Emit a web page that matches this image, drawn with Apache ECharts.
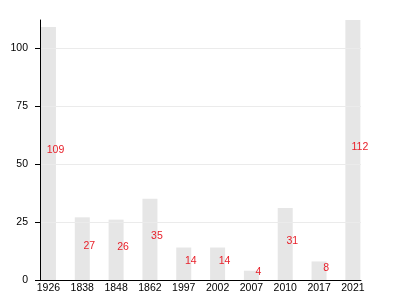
<!DOCTYPE html>
<html>
<head>
<meta charset="utf-8">
<script src="https://cdn.jsdelivr.net/npm/echarts@6/dist/echarts.min.js"></script>
<style>html,body{margin:0;padding:0;background:#fff}#c{width:400px;height:300px}</style>
</head>
<body>
<div id="c"></div>
<script>
const categories = ['1926','1838','1848','1862','1997','2002','2007','2010','2017','2021'];
const values = [109, 27, 26, 35, 14, 14, 4, 31, 8, 112];
const yTicks = [0, 25, 50, 75, 100];

const chart = echarts.init(document.getElementById('c'), null, {renderer: 'canvas'});
const font = 'Liberation Sans, Arial, sans-serif';
chart.setOption({
  animation: false,
  grid: {left: 40, right: 39, top: 20, bottom: 20, containLabel: false},
  xAxis: {
    type: 'value',
    z: 5,
    min: -0.25,
    max: categories.length - 1 + 0.24,
    axisLine: {show: true, onZero: false, lineStyle: {color: '#000', width: 1}},
    axisTick: {show: false},
    splitLine: {show: false},
    axisLabel: {
      customValues: categories.map((c, i) => i),
      formatter: v => categories[Math.round(v)],
      color: '#000', fontFamily: font, fontSize: 10.5, margin: 3
    }
  },
  yAxis: {
    type: 'value',
    z: 5,
    min: 0,
    max: 112,
    interval: 25,
    axisLine: {show: true, onZero: false, lineStyle: {color: '#000', width: 1}},
    axisTick: {show: true, length: 5, customValues: yTicks, lineStyle: {color: '#000'}},
    splitLine: {show: true, lineStyle: {color: '#ebebeb', width: 1}},
    axisLabel: {
      customValues: yTicks,
      color: '#000', fontFamily: font, fontSize: 10.5, margin: 12
    }
  },
  series: [{
    type: 'bar',
    barWidth: 15,
    data: values.map((v, i) => [i, v]),
    itemStyle: {color: '#e6e6e6'},
    label: {
      show: true,
      position: 'inside',
      offset: [7, -3],
      color: '#e8202a',
      fontFamily: font,
      fontSize: 10.5,
      formatter: p => p.value[1]
    }
  }]
});
</script>
</body>
</html>
